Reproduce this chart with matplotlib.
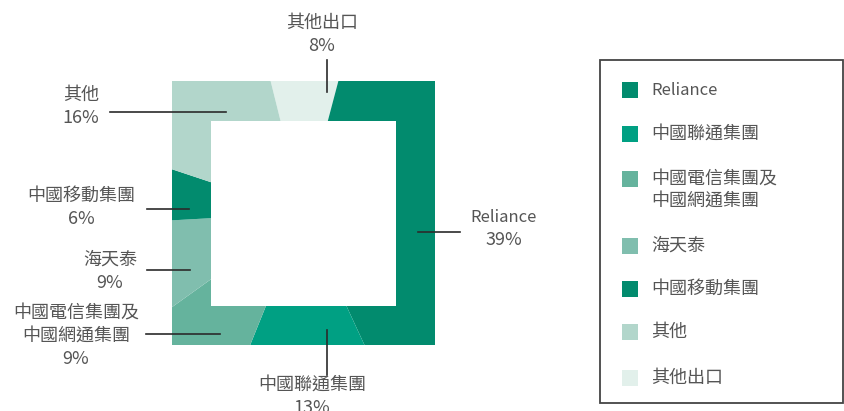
import matplotlib
matplotlib.use("Agg")
import matplotlib.pyplot as plt
from matplotlib.patches import Rectangle

plt.rcParams["font.family"] = ["Noto Sans CJK TC", "DejaVu Sans"]

# data (clockwise from the top)
labels = ["其他出口", "Reliance", "中國聯通集團", "中國電信集團及\n中國網通集團", "海天泰", "中國移動集團", "其他"]
shares = [8, 39, 13, 9, 9, 6, 16]
colors = ["#E2F0EB", "#028B6E", "#00A083", "#65B39D", "#80BEAE", "#028B6E", "#B2D6CB"]
legend_order = [1, 2, 3, 4, 5, 6, 0]

H = 411  # work in pixel coords, y measured from top of image
def Y(y):
    return H - y

# callout layout: first text line centre (x, y), line (x0, y0) -> (x1, y1)
callouts = [
    ((322, 23), (327, 60), (327, 92)),
    ((504, 217), (460, 232), (418, 232)),
    ((312, 385), (327, 375), (327, 330)),
    ((76, 313), (146, 334), (220, 334)),
    ((110, 260), (147, 270), (190, 270)),
    ((81, 196), (147, 209), (189, 209)),
    ((81, 95), (110, 112), (226, 112)),
]
legend_rows = [90, 134, 179, 246, 289, 332, 378]

TXT = "#555555"
FS = 13
def fsize(s):
    # latin-only words are set a touch smaller
    return 12 if s.isascii() and not s.endswith("%") else FS

fig = plt.figure(figsize=(8.45, 4.11), dpi=100)
ax = fig.add_axes([0, 0, 1, 1])

cx, cy = 303.5, Y(213)
wedges, _ = ax.pie(shares, colors=colors, startangle=104, counterclock=False,
                   radius=220, center=(cx, cy), wedgeprops=dict(linewidth=0))
outer = Rectangle((172, Y(345)), 263, 264, facecolor="none", edgecolor="none")
ax.add_patch(outer)
for w in wedges:
    w.set_clip_on(True)
    w.set_clip_path(outer)
ax.add_patch(Rectangle((211, Y(306)), 185, 185, facecolor="white", edgecolor="none", zorder=3))

for lab, val, (tpos, p0, p1) in zip(labels, shares, callouts):
    for k, line in enumerate(lab.split("\n") + [f"{val}%"]):
        ax.text(tpos[0], Y(tpos[1] + 23 * k), line, ha="center", va="center",
                fontsize=fsize(line), color=TXT, zorder=5)
    ax.plot([p0[0], p1[0]], [Y(p0[1]), Y(p1[1])], color="#2b2b2b", lw=1.2, zorder=5)

# legend box
ax.add_patch(Rectangle((600.5, Y(403)), 243, 343, facecolor="none", edgecolor="#444444", lw=1.3, zorder=5))
for i, row in zip(legend_order, legend_rows):
    ax.add_patch(Rectangle((622, Y(row + 8)), 16, 16, facecolor=colors[i], edgecolor="none", zorder=5))
    for k, line in enumerate(labels[i].split("\n")):
        ax.text(651, Y(row + 22 * k), line, ha="left", va="center", fontsize=fsize(line),
                color=TXT, zorder=5)

ax.set_xlim(0, 845)
ax.set_ylim(0, H)
ax.set_aspect("equal")
ax.axis("off")
fig.savefig("out.png", dpi=100)
